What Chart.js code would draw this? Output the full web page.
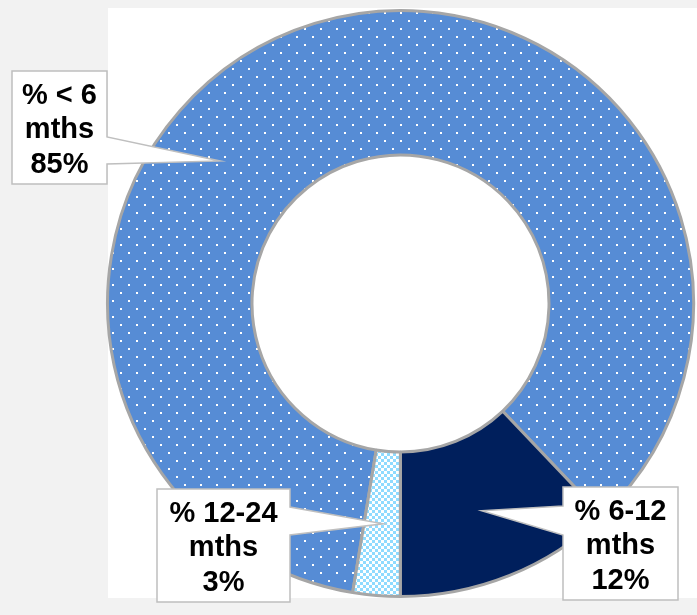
<!DOCTYPE html>
<html>
<head>
<meta charset="utf-8">
<script src="https://cdn.jsdelivr.net/npm/chart.js@4.4.1/dist/chart.umd.min.js"></script>
<style>
  html, body { margin: 0; padding: 0; background: #f2f2f2; }
  #wrap { position: relative; width: 697px; height: 615px; overflow: hidden; }
  canvas { display: block; }
</style>
</head>
<body>
<div id="wrap"><canvas id="c" width="697" height="615"></canvas></div>
<script>
// ---- data ----
const categories = ['% < 6 mths', '% 6-12 mths', '% 12-24 mths'];
const shares = [85.3, 12.1, 2.6];
const percentLabels = ['85%', '12%', '3%'];

// ---- styling ----
const BLUE = '#568cd5';
const NAVY = '#001f5c';
const CHECK = '#8fdbff';
const EDGE = '#a6a6a6';

const ctx = document.getElementById('c').getContext('2d');

function dotPattern() {
  const c = document.createElement('canvas');
  c.width = 16; c.height = 16;
  const g = c.getContext('2d');
  g.fillStyle = BLUE; g.fillRect(0, 0, 16, 16);
  g.fillStyle = '#ffffff';
  g.fillRect(8, 4, 2, 2);
  g.fillRect(0, 12, 2, 2);
  return ctx.createPattern(c, 'repeat');
}
function checkPattern() {
  const c = document.createElement('canvas');
  c.width = 6; c.height = 6;
  const g = c.getContext('2d');
  g.fillStyle = '#ffffff'; g.fillRect(0, 0, 6, 6);
  g.fillStyle = CHECK;
  g.fillRect(0, 0, 3, 3);
  g.fillRect(3, 3, 3, 3);
  return ctx.createPattern(c, 'repeat');
}

// callout boxes (page pixels) and pointer tip in polar coords around the doughnut centre
const callouts = [
  { x: 12,  y: 71,  w: 95,  h: 113, side: 'right', base: [137, 164], tipAngle: 308.3, tipR: 230 },
  { x: 563, y: 487, w: 115, h: 113, side: 'left',  base: [506, 535], tipAngle: 158.6, tipR: 222.5 },
  { x: 157, y: 489, w: 133, h: 113, side: 'right', base: [507, 535], tipAngle: 184.5, tipR: 221 }
];

const bgPlugin = {
  id: 'bg',
  beforeDraw(chart) {
    const c = chart.ctx;
    c.save();
    c.fillStyle = '#ffffff';
    c.fillRect(108, 8, 589, 590);
    c.restore();
  }
};

const calloutPlugin = {
  id: 'callouts',
  afterDatasetsDraw(chart) {
    const c = chart.ctx;
    const meta = chart.getDatasetMeta(0);
    const cx = meta.data[0].x, cy = meta.data[0].y;
    categories.forEach((cat, i) => {
      const o = callouts[i];
      const a = o.tipAngle * Math.PI / 180;
      const tx = cx + o.tipR * Math.sin(a);
      const ty = cy - o.tipR * Math.cos(a);
      c.save();
      c.beginPath();
      if (o.side === 'right') {
        c.moveTo(o.x, o.y);
        c.lineTo(o.x + o.w, o.y);
        c.lineTo(o.x + o.w, o.base[0]);
        c.lineTo(tx, ty);
        c.lineTo(o.x + o.w, o.base[1]);
        c.lineTo(o.x + o.w, o.y + o.h);
        c.lineTo(o.x, o.y + o.h);
      } else {
        c.moveTo(o.x, o.y);
        c.lineTo(o.x + o.w, o.y);
        c.lineTo(o.x + o.w, o.y + o.h);
        c.lineTo(o.x, o.y + o.h);
        c.lineTo(o.x, o.base[1]);
        c.lineTo(tx, ty);
        c.lineTo(o.x, o.base[0]);
      }
      c.closePath();
      c.fillStyle = '#ffffff';
      c.fill();
      c.lineWidth = 1.5;
      c.strokeStyle = '#bfbfbf';
      c.lineJoin = 'miter';
      c.stroke();

      const lines = [cat.replace(' mths', ''), 'mths', percentLabels[i]];
      c.fillStyle = '#000000';
      c.font = 'bold 29px "Liberation Sans", Arial, sans-serif';
      c.textAlign = 'center';
      c.textBaseline = 'alphabetic';
      lines.forEach((t, k) => {
        c.fillText(t, o.x + o.w / 2, o.y + 32.5 + k * 34.8);
      });
      c.restore();
    });
  }
};

new Chart(ctx, {
  type: 'doughnut',
  data: {
    labels: categories,
    datasets: [{
      data: shares,
      backgroundColor: [dotPattern(), NAVY, checkPattern()],
      borderColor: EDGE,
      borderWidth: 3,
      borderAlign: 'center',
      hoverOffset: 0
    }]
  },
  options: {
    responsive: false,
    animation: false,
    rotation: 189.4,
    radius: 293,
    cutout: 148,
    layout: { padding: { left: 107, right: 3, top: 10, bottom: 18 } },
    plugins: {
      legend: { display: false },
      tooltip: { enabled: false }
    },
    events: []
  },
  plugins: [bgPlugin, calloutPlugin]
});
</script>
</body>
</html>
